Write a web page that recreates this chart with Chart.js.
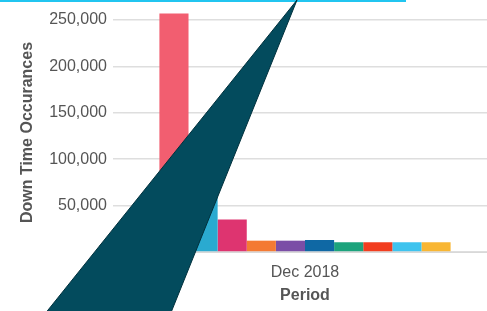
<!DOCTYPE html>
<html>
<head>
<meta charset="utf-8">
<script src="https://cdn.jsdelivr.net/npm/chart.js@4.4.1/dist/chart.umd.min.js"></script>
<style>
    body { margin: 0; background: #fff; }
    .chart { position: relative; width: 487px; height: 311px; }
</style>
</head>
<body>
<div class="chart">
    <canvas id="myBarChart"></canvas>
</div>
<script>
    // Chart data
    const periods = ['Dec 2018'];
    const seriesNames = ['Series 1', 'Series 2', 'Series 3', 'Series 4', 'Series 5',
                         'Series 6', 'Series 7', 'Series 8', 'Series 9', 'Series 10'];
    const seriesValues = [257000, 62000, 35000, 12200, 12200, 12900, 10500, 10500, 10500, 10500];
    const seriesColors = ['#F25E70', '#2AAAD0', '#DE3470', '#F47A33', '#7B4EA6',
                          '#0F68A4', '#1CA37C', '#F23D1F', '#3EC3EE', '#F8B633'];
    const yTicks = [0, 50000, 100000, 150000, 200000, 250000];

    // Callout shape drawn over the chart (slide decoration)
    const calloutPlugin = {
        id: 'callout',
        afterDraw(chart) {
            const ctx = chart.ctx;
            ctx.save();
            // cyan box at the top
            ctx.strokeStyle = '#21C5F0';
            ctx.lineWidth = 2;
            ctx.strokeRect(-10, -20, 415, 21);
            // dark pointer
            ctx.beginPath();
            ctx.moveTo(297, 0);
            ctx.lineTo(40, 320);
            ctx.lineTo(168, 320);
            ctx.closePath();
            ctx.fillStyle = '#034B5D';
            ctx.fill();
            ctx.strokeStyle = '#01313D';
            ctx.lineWidth = 1;
            ctx.stroke();
            ctx.restore();
        }
    };

    const ctxBar = document.getElementById('myBarChart').getContext('2d');
    const myBarChart = new Chart(ctxBar, {
        type: 'bar',
        data: {
            labels: periods,
            datasets: seriesNames.map((name, i) => ({
                label: name,
                data: [seriesValues[i]],
                backgroundColor: seriesColors[i],
                borderWidth: 0,
                barPercentage: 1,
                categoryPercentage: 0.8
            }))
        },
        options: {
            responsive: true,
            maintainAspectRatio: false,
            animation: false,
            layout: { padding: { top: 13, left: 0, right: 0, bottom: 0 } },
            plugins: {
                legend: { display: false },
                tooltip: { enabled: false }
            },
            scales: {
                x: {
                    grid: { drawOnChartArea: false, color: '#d8d8d8', tickLength: 8 },
                    border: { color: '#d8d8d8' },
                    ticks: { color: '#555', font: { family: 'Liberation Sans, Arial', size: 16 }, padding: 3 },
                    title: {
                        display: true,
                        text: 'Period',
                        color: '#555',
                        font: { family: 'Liberation Sans, Arial', size: 16, weight: 'bold' },
                        padding: { top: 4, bottom: 6 }
                    },
                    afterFit(scale) { scale.height = 59; }
                },
                y: {
                    min: 0,
                    max: 257500,
                    grid: { color: '#dedede', lineWidth: 1.5, tickLength: 10 },
                    border: { display: false },
                    ticks: {
                        stepSize: 50000,
                        color: '#555',
                        padding: 6,
                        font: { family: 'Liberation Sans, Arial', size: 16, lineHeight: 0.8 },
                        callback: (v) => v.toLocaleString('en-US')
                    },
                    afterBuildTicks(scale) {
                        scale.ticks = yTicks.map(v => ({ value: v }));
                    },
                    title: {
                        display: true,
                        text: 'Down Time Occurances',
                        color: '#555',
                        font: { family: 'Liberation Sans, Arial', size: 16, weight: 'bold' },
                        padding: { top: 18, bottom: 4 }
                    },
                    afterFit(scale) { scale.width = 123; }
                }
            }
        },
        plugins: [calloutPlugin]
    });
</script>
</body>
</html>
